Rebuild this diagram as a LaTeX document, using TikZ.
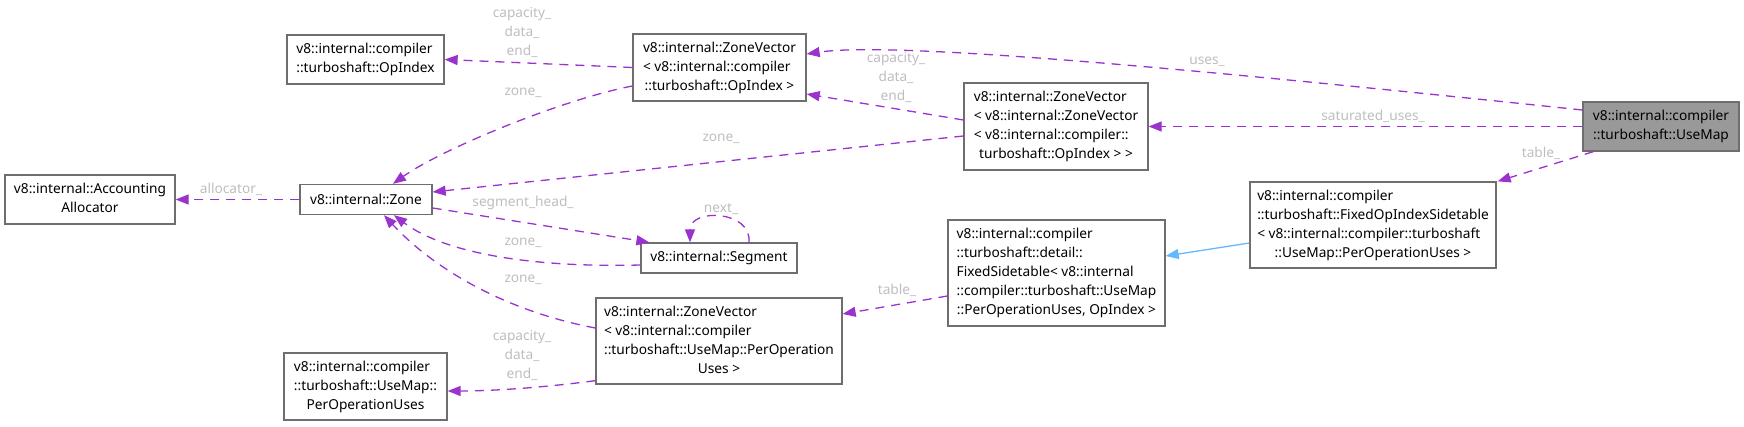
\documentclass[tikz,border=0pt]{standalone}
\usepackage{fontspec}
\setmainfont{Noto Sans}
\usepackage{tikz}
\usetikzlibrary{positioning, arrows.meta, calc}

\definecolor{edgepurple}{RGB}{154,50,205}
\definecolor{inhblue}{RGB}{99,184,255}
\definecolor{boxgray}{RGB}{110,110,110}
\definecolor{lblgray}{RGB}{190,190,190}
\newcommand{\dx}[1]{\begin{tabular}{@{}l@{}}#1\end{tabular}}
\newcommand{\lastln}[1]{\multicolumn{1}{@{}c@{}}{#1}}

\begin{document}
\begin{tikzpicture}[x=1pt, y=-1pt, font=\fontsize{13.7}{19}\selectfont, >={Triangle[length=13pt, width=10pt]}]
				\tikzstyle{cls}=[rectangle, draw=boxgray, line width=1.3pt, fill=white, inner sep=0pt]
				\tikzstyle{main cls}=[cls, fill=black!40]
				\tikzstyle{rel}=[->, draw=edgepurple, line width=1.3pt, dash pattern=on 9pt off 7pt]
				\tikzstyle{inh}=[->, draw=inhblue, line width=1.3pt]
				\tikzstyle{lbl}=[text=lblgray, inner sep=0pt, align=center]
				
				\useasboundingbox (0,0) rectangle (1744,426);
				
				% Classes
				\node[cls, minimum width=170pt, minimum height=49pt] (alloc) at (90,199.5) {\dx{v8::internal::Accounting\\\lastln{Allocator}}};
				\node[cls, minimum width=132pt, minimum height=30pt] (zone) at (366,199.5) {v8::internal::Zone};
				\node[cls, minimum width=157pt, minimum height=49pt] (opidx) at (365.5,59.5) {\dx{v8::internal::compiler\\\lastln{::turboshaft::OpIndex}}};
				\node[cls, minimum width=173pt, minimum height=67pt] (zvop) at (719.5,67.5) {\dx{v8::internal::ZoneVector\\< v8::internal::compiler\\\lastln{::turboshaft::OpIndex >}}};
				\node[cls, minimum width=184pt, minimum height=87pt] (zvzv) at (1056,126.5) {\dx{v8::internal::ZoneVector\\< v8::internal::ZoneVector\\< v8::internal::compiler::\\\lastln{turboshaft::OpIndex > >}}};
				\node[main cls, minimum width=156pt, minimum height=49pt] (usemap) at (1661,126.5) {\dx{v8::internal::compiler\\\lastln{::turboshaft::UseMap}}};
				\node[cls, minimum width=246pt, minimum height=86pt] (fois) at (1373,225) {\dx{v8::internal::compiler\\::turboshaft::FixedOpIndexSidetable\\< v8::internal::compiler::turboshaft\\\lastln{::UseMap::PerOperationUses >}}};
				\node[cls, minimum width=217pt, minimum height=106pt] (fst) at (1056.5,273) {\dx{v8::internal::compiler\\::turboshaft::detail::\\FixedSidetable< v8::internal\\::compiler::turboshaft::UseMap\\\lastln{::PerOperationUses, OpIndex >}}};
				\node[cls, minimum width=156pt, minimum height=30pt] (seg) at (719,258) {v8::internal::Segment};
				\node[cls, minimum width=246pt, minimum height=86pt] (zvpou) at (719,341) {\dx{v8::internal::ZoneVector\\< v8::internal::compiler\\::turboshaft::UseMap::PerOperation\\\lastln{Uses >}}};
				\node[cls, minimum width=163pt, minimum height=67pt] (pou) at (365.5,386.5) {\dx{v8::internal::compiler\\::turboshaft::UseMap::\\\lastln{PerOperationUses}}};
				
				% Members
				\draw[rel] (zone.west) -- (alloc.east);
				\draw[rel] (zvop.west) -- (opidx.east);
				\draw[rel] ($(zvop.west)+(0,18.5)$) .. controls (560,100) and (440,150) .. ($(zone.north)+(27,0)$);
				\draw[rel] ($(zvzv.west)+(0,9.5)$) -- ($(zone.east)+(0,-7.5)$);
				\draw[rel] ($(zvzv.west)+(0,-6.5)$) -- ($(zvop.east)+(0,26.5)$);
				\draw[rel] ($(usemap.west)+(0,-16.5)$) .. controls (1250,75) and (900,40) .. ($(zvop.east)+(0,-13.5)$);
				\draw[rel] (usemap.west) -- (zvzv.east);
				\draw[rel] ($(usemap.south west)+(11,0)$) -- ($(fois.north east)+(1,0)$);
				\draw[rel] ($(fst.west)+(0,23)$) -- ($(zvpou.east)+(0,-27)$);
				\draw[rel] ($(zvpou.south west)+(0,-4)$) .. controls (540,388) and (490,391) .. ($(pou.east)+(0,4.5)$);
				\draw[rel] ($(zvpou.west)+(0,-13)$) .. controls (500,310) and (430,265) .. ($(zone.south)+(18,0)$);
				\draw[rel] ($(seg.west)+(0,7)$) .. controls (520,268) and (440,250) .. ($(zone.south)+(28,0)$);
				\draw[rel] ($(zone.east)+(0,8.5)$) -- ($(seg.north west)+(9,0)$);
				\draw[rel] ($(seg.north)+(30,0)$) .. controls (752,210) and (690,208) .. ($(seg.north)+(-29,0)$);
				
				% Inheritance
				\draw[inh] ($(fois.west)+(0,18)$) -- ($(fst.east)+(0,-17)$);
				
				% Edge labels
				\node[lbl] (l-alloc) at (231,189) {allocator\_};
				\foreach \name/\x/\y in {l-opidx/522/33, l-zvop/896/78, l-pou/522/355}
				\node[lbl] (\name) at (\x,\y) {capacity\_\\data\_\\end\_};
				\foreach \name/\x/\y in {l-zone1/523/93, l-zone2/721/139, l-zone3/523/243, l-zone4/523/280}
				\node[lbl] (\name) at (\x,\y) {zone\_};
				\node[lbl] (l-seghead) at (523,203) {segment\_head\_};
				\node[lbl] (l-next) at (721,209) {next\_};
				\node[lbl] (l-uses) at (1207,62) {uses\_};
				\node[lbl] (l-satuses) at (1373,116) {saturated\_uses\_};
				\node[lbl] (l-table1) at (1541,153) {table\_};
				\node[lbl] (l-table2) at (897,290) {table\_};
			\end{tikzpicture}
\end{document}
